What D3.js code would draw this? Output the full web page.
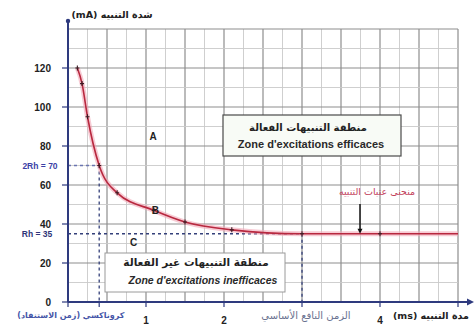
<!DOCTYPE html>
<html>
<head>
<meta charset="utf-8">
<script src="https://cdn.jsdelivr.net/npm/d3@7"></script>
<style>
  html, body { margin: 0; padding: 0; background: #fff; }
  svg { display: block; }
  .num { font-family: "Liberation Sans", Arial, sans-serif; font-weight: bold; fill: #222; }
  .ar { font-family: "DejaVu Sans", sans-serif; }
  .fr { font-family: "Liberation Sans", Arial, sans-serif; font-weight: bold; fill: #2a2a2a; }
</style>
</head>
<body>
<svg id="chart" width="474" height="330"></svg>
<script>
// Strength–duration (threshold) curve of a nerve fibre
const durations   = [0.12, 0.18, 0.25, 0.4, 0.63, 1.1, 1.5, 2.1, 3, 4, 5];   // ms
const intensities = [120, 112, 95, 70, 56, 47, 41, 37, 35, 35, 35];         // mA
const rheobase = 35;
const chronaxie = 0.4;
const utilizationTime = 3;
const xTickValues = [1, 2, 4];
const yTickValues = [0, 20, 40, 60, 80, 100, 120];
const regionLetters = [
  { t: "A", x: 1.09, y: 85 },
  { t: "B", x: 1.12, y: 47 },
  { t: "C", x: 0.84, y: 31 }
];

const svg = d3.select("#chart");
const x = d3.scaleLinear().domain([0, 5]).range([68, 458]);
const y = d3.scaleLinear().domain([0, 140]).range([302, 29]);

// Right-to-left label, centred on cx by its measured box
function arLabel(parent, str, cx, baseline, size, color, weight) {
  const t = parent.append("text").attr("class", "ar")
    .attr("direction", "rtl").style("direction", "rtl")
    .attr("x", 0).attr("y", baseline)
    .attr("font-size", size).attr("font-weight", weight || "bold")
    .attr("fill", color).text(str);
  const b = t.node().getBBox();
  t.attr("x", cx - (b.x + b.width / 2));
  return t;
}

// Graph-paper grid
const grid = svg.append("g");
d3.range(0.25, 5.001, 0.25).forEach(v => {
  const major = Math.abs(v * 2 - Math.round(v * 2)) < 1e-6;
  grid.append("line")
    .attr("x1", x(v)).attr("x2", x(v)).attr("y1", y(140)).attr("y2", y(0))
    .attr("stroke", major ? "#8e8e8e" : "#c9c9c9").attr("stroke-width", major ? 1.2 : 0.9);
});
d3.range(10, 140.001, 10).forEach(v => {
  const major = v % 20 === 0;
  grid.append("line")
    .attr("x1", x(0)).attr("x2", x(5)).attr("y1", y(v)).attr("y2", y(v))
    .attr("stroke", major ? "#8e8e8e" : "#c9c9c9").attr("stroke-width", major ? 1.2 : 0.9);
});

// Region boxes
const boxEff = svg.append("g");
boxEff.append("rect").attr("x", 223).attr("y", 115).attr("width", 178).attr("height", 41)
  .attr("fill", "#f8fbf6").attr("stroke", "#4a4a4a").attr("stroke-width", 1.2);
arLabel(boxEff, "منطقة التنبيهات الفعالة", 308, 131, 10, "#222");
boxEff.append("text").attr("class", "fr").attr("x", 311).attr("y", 148)
  .attr("text-anchor", "middle").attr("font-size", 11)
  .text("Zone d'excitations efficaces");

const boxIneff = svg.append("g");
boxIneff.append("rect").attr("x", 105).attr("y", 253).attr("width", 180).attr("height", 39)
  .attr("fill", "#ffffff").attr("stroke", "#9a9a9a").attr("stroke-width", 1);
arLabel(boxIneff, "منطقة التنبيهات غير الفعالة", 196, 266, 10.5, "#222");
boxIneff.append("text").attr("class", "fr").attr("x", 203).attr("y", 284)
  .attr("text-anchor", "middle").attr("font-size", 10.5)
  .attr("font-style", "italic")
  .text("Zone d'excitations inefficaces");

// Reference dashed lines (rheobase, 2×rheobase, chronaxie, utilization time)
const dash = svg.append("g").attr("stroke", "#34407a").attr("stroke-width", 1.3)
  .attr("stroke-dasharray", "3,3").attr("fill", "none");
dash.append("line").attr("x1", x(0)).attr("x2", x(utilizationTime))
  .attr("y1", y(rheobase)).attr("y2", y(rheobase));
dash.append("line").attr("x1", x(0)).attr("x2", x(chronaxie))
  .attr("y1", y(2 * rheobase)).attr("y2", y(2 * rheobase)).attr("stroke", "#6a74b0");
dash.append("line").attr("x1", x(chronaxie)).attr("x2", x(chronaxie))
  .attr("y1", y(2 * rheobase)).attr("y2", y(0));
dash.append("line").attr("x1", x(utilizationTime)).attr("x2", x(utilizationTime))
  .attr("y1", y(rheobase)).attr("y2", y(0));

// Threshold curve
const pts = durations.map((d, i) => [d, intensities[i]]);
const line = d3.line().x(d => x(d[0])).y(d => y(d[1])).curve(d3.curveMonotoneX);
svg.append("path").datum(pts).attr("d", line)
  .attr("fill", "none").attr("stroke", "#f2a9b8").attr("stroke-width", 5).attr("stroke-opacity", 0.6);
svg.append("path").datum(pts).attr("d", line)
  .attr("fill", "none").attr("stroke", "#b8283f").attr("stroke-width", 1.6);
svg.append("g").selectAll("path").data(pts.slice(0, -1)).join("path")
  .attr("d", d => `M${x(d[0]) - 2},${y(d[1])}h4M${x(d[0])},${y(d[1]) - 2.5}v5`)
  .attr("stroke", "#3a1a22").attr("stroke-width", 1.1);

// Axes
const axisColor = "#2e3a7e";
svg.append("line").attr("x1", x(0)).attr("x2", 470).attr("y1", y(0)).attr("y2", y(0))
  .attr("stroke", axisColor).attr("stroke-width", 2);
svg.append("path").attr("d", `M474,${y(0)}l-7,-3.5v7z`).attr("fill", axisColor);
svg.append("line").attr("x1", x(0)).attr("x2", x(0)).attr("y1", y(0)).attr("y2", 21)
  .attr("stroke", axisColor).attr("stroke-width", 2);
svg.append("circle").attr("cx", x(0)).attr("cy", 21).attr("r", 2.2).attr("fill", axisColor);

// Axis ticks
svg.append("g").selectAll("line").data([0, 1, 2, 3, 4, 5, chronaxie]).join("line")
  .attr("x1", d => x(d)).attr("x2", d => x(d)).attr("y1", y(0)).attr("y2", y(0) + 5)
  .attr("stroke", axisColor).attr("stroke-width", 1.2);
svg.append("g").selectAll("line").data(yTickValues).join("line")
  .attr("x1", x(0) - 6).attr("x2", x(0)).attr("y1", d => y(d)).attr("y2", d => y(d))
  .attr("stroke", axisColor).attr("stroke-width", 1.2);

// Tick labels
svg.append("g").selectAll("text").data(yTickValues).join("text")
  .attr("class", "num").attr("x", 51).attr("y", d => y(d) + 3.5)
  .attr("text-anchor", "end").attr("font-size", 10).text(d => d);
svg.append("g").selectAll("text").data(xTickValues).join("text")
  .attr("class", "num").attr("x", d => x(d)).attr("y", 324)
  .attr("text-anchor", "middle").attr("font-size", 10).text(d => d);

// Rheobase labels
svg.append("text").attr("class", "num").attr("x", 40).attr("y", y(2 * rheobase) + 3)
  .attr("text-anchor", "middle").attr("font-size", 8.5)
  .style("fill", "#3b3fa6").text(`2Rh = ${2 * rheobase}`);
svg.append("text").attr("class", "num").attr("x", 37).attr("y", y(rheobase) + 3)
  .attr("text-anchor", "middle").attr("font-size", 8.5)
  .style("fill", "#2e3478").text(`Rh = ${rheobase}`);

// Axis titles and time labels
arLabel(svg, "شدة التنبيه (mA)", 112, 18, 9.5, "#222");
arLabel(svg, "مدة التنبيه (ms)", 431, 319, 9.5, "#222");
arLabel(svg, "كروناكسي (زمن الاستنفاد)", 71, 318, 8, "#4656a8");
arLabel(svg, "الزمن النافع الأساسي", 306, 319, 10, "#6a7290", "normal");

// Curve label with pointer
arLabel(svg, "منحنى عتبات التنبيه", 377, 195, 9.5, "#c2405a", "normal");
svg.append("line").attr("x1", 360).attr("x2", 360).attr("y1", 204).attr("y2", y(rheobase) - 2)
  .attr("stroke", "#111").attr("stroke-width", 1.5);
svg.append("path").attr("d", `M360,${y(rheobase)}l-2.5,-5h5z`).attr("fill", "#111");

// Region letters
svg.append("g").selectAll("text").data(regionLetters).join("text")
  .attr("class", "num").attr("x", d => x(d.x)).attr("y", d => y(d.y) + 4)
  .attr("text-anchor", "middle").attr("font-size", 10).text(d => d.t);
</script>
</body>
</html>
